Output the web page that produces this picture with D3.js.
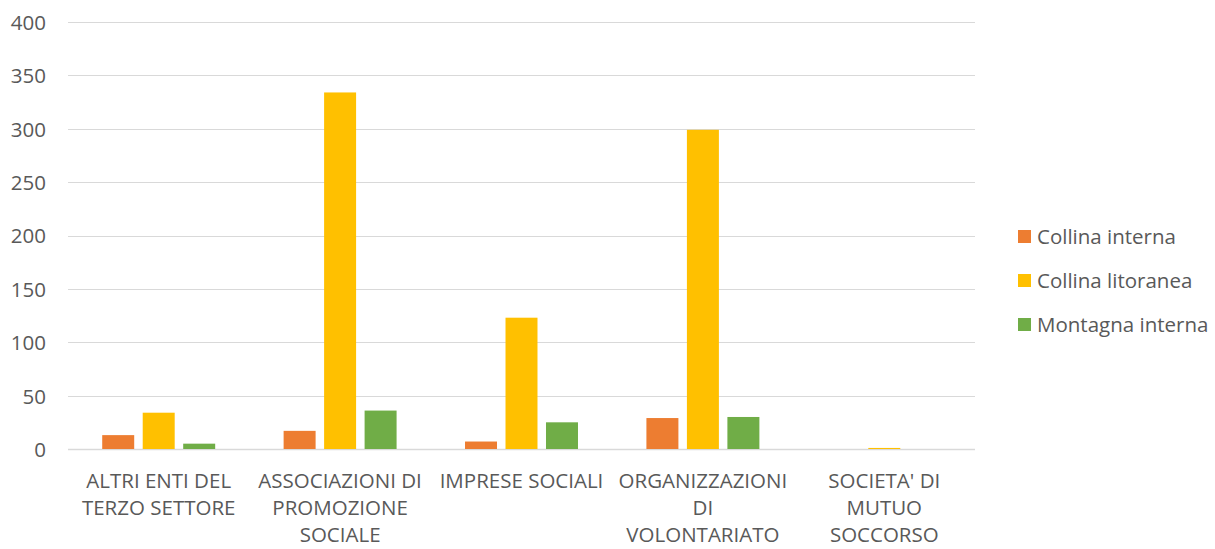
<!DOCTYPE html>
<html>
<head>
<meta charset="utf-8">
<script src="https://cdn.jsdelivr.net/npm/d3@7"></script>
<style>
  html, body { margin: 0; padding: 0; background: #ffffff; }
  svg { display: block; }
  text { font-family: "Open Sans", "Noto Sans", sans-serif; fill: #595959; }
</style>
</head>
<body>
<svg id="chart" width="1215" height="549"></svg>
<script>
// Number of third-sector bodies by category and territorial zone
const categories = [
  "ALTRI ENTI DEL TERZO SETTORE",
  "ASSOCIAZIONI DI PROMOZIONE SOCIALE",
  "IMPRESE SOCIALI",
  "ORGANIZZAZIONI DI VOLONTARIATO",
  "SOCIETA' DI MUTUO SOCCORSO"
];
const seriesNames = ["Collina interna", "Collina litoranea", "Montagna interna"];
const collinaInterna   = [13, 17, 7, 29, 0];
const collinaLitoranea = [34, 334, 123, 299, 1];
const montagnaInterna  = [5, 36, 25, 30, 0];
const seriesValues = [collinaInterna, collinaLitoranea, montagnaInterna];
const seriesColors = ["#ED7D31", "#FFC000", "#70AD47"];
const yTicks = [0, 50, 100, 150, 200, 250, 300, 350, 400];

const svg = d3.select("#chart");
const plot = { left: 68, right: 975, top: 22, bottom: 449 };
const fontSize = 20.5;
const lineHeight = 27;

const x0 = d3.scaleBand().domain(categories).range([plot.left, plot.right]).padding(0);
const x1 = d3.scaleBand().domain(seriesNames).range([0, x0.bandwidth()])
  .paddingInner(0.21).paddingOuter(0.845);
const y = d3.scaleLinear().domain([0, 400]).range([plot.bottom, plot.top]);

// Horizontal gridlines
svg.append("g")
  .selectAll("line")
  .data(yTicks)
  .join("line")
  .attr("x1", plot.left)
  .attr("x2", plot.right)
  .attr("y1", d => Math.round(y(d)) + 0.5)
  .attr("y2", d => Math.round(y(d)) + 0.5)
  .attr("stroke", "#D9D9D9")
  .attr("stroke-width", d => d === 0 ? 1.5 : 1);

// Y axis labels
const yAxis = d3.axisLeft(y).tickValues(yTicks).tickSize(0).tickPadding(0);
const yg = svg.append("g").attr("transform", `translate(${plot.left - 22},0)`).call(yAxis);
yg.select(".domain").remove();
yg.selectAll("text")
  .attr("font-family", "Open Sans, Noto Sans, sans-serif")
  .attr("font-size", fontSize)
  .attr("fill", "#595959")
  .attr("dy", "0.36em");

// Bars
const rows = categories.map((c, i) => ({ cat: c, values: seriesNames.map((s, j) => ({ s, v: seriesValues[j][i], color: seriesColors[j] })) }));
const groups = svg.append("g")
  .selectAll("g")
  .data(rows)
  .join("g")
  .attr("transform", d => `translate(${x0(d.cat)},0)`);
groups.selectAll("rect")
  .data(d => d.values)
  .join("rect")
  .attr("x", d => x1(d.s))
  .attr("width", x1.bandwidth())
  .attr("y", d => y(d.v))
  .attr("height", d => y(0) - y(d.v))
  .attr("fill", d => d.color);

// Category labels, wrapped word by word
const wrapLimit = 170;
const xg = svg.append("g");
categories.forEach(cat => {
  const cx = x0(cat) + x0.bandwidth() / 2;
  const t = xg.append("text")
    .attr("text-anchor", "middle")
    .attr("font-size", fontSize)
    .attr("x", cx)
    .attr("y", 488);
  const words = cat.split(" ");
  const lines = [];
  let current = [];
  const probe = svg.append("text").attr("font-size", fontSize);
  words.forEach(w => {
    probe.text(current.concat([w]).join(" "));
    if (probe.node().getComputedTextLength() > wrapLimit && current.length) {
      lines.push(current.join(" "));
      current = [w];
    } else {
      current.push(w);
    }
  });
  if (current.length) lines.push(current.join(" "));
  probe.remove();
  lines.forEach((ln, k) => {
    t.append("tspan").attr("x", cx).attr("y", 488 + k * lineHeight).text(ln);
  });
});

// Legend
const legend = svg.append("g").attr("transform", "translate(1018,0)");
const legendY = [236.5, 280.5, 324.5];
seriesNames.forEach((name, i) => {
  legend.append("rect")
    .attr("x", 0)
    .attr("y", legendY[i] - 6.5)
    .attr("width", 13)
    .attr("height", 13)
    .attr("fill", seriesColors[i]);
  legend.append("text")
    .attr("x", 19)
    .attr("y", legendY[i])
    .attr("dy", "0.36em")
    .attr("font-size", fontSize)
    .text(name);
});
</script>
</body>
</html>
